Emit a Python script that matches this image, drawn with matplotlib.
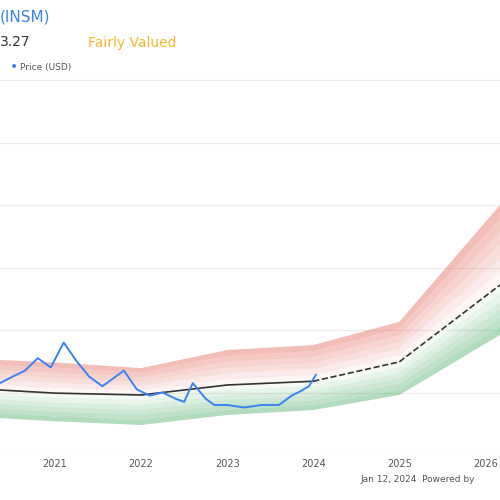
import numpy as np
import matplotlib.pyplot as plt

# fair value path (years, value)
fv_x = [2020.36, 2021.0, 2022.0, 2023.0, 2024.0, 2025.0, 2026.17]
fv_y = [10.4, 9.9, 9.6, 11.2, 11.8, 14.9, 27.2]
upper_y = [15.2, 14.8, 13.9, 16.8, 17.6, 21.3, 40.0]
lower_y = [5.9, 5.4, 4.8, 6.4, 7.2, 9.6, 19.2]

price_x = [2020.36, 2020.5, 2020.65, 2020.8, 2020.95, 2021.1, 2021.25, 2021.4, 2021.55,
           2021.7, 2021.8, 2021.95, 2022.1, 2022.25, 2022.4, 2022.5, 2022.6, 2022.75,
           2022.85, 2023.0, 2023.2, 2023.4, 2023.6, 2023.75, 2023.85, 2023.95, 2024.03]
price_y = [11.5, 12.5, 13.5, 15.5, 14.0, 18.0, 15.0, 12.5, 11.0, 12.5, 13.5, 10.5,
           9.5, 10.0, 9.0, 8.5, 11.5, 9.0, 8.0, 8.0, 7.6, 8.0, 8.0, 9.5, 10.2, 11.0, 12.8]

years = [2021, 2022, 2023, 2024, 2025, 2026]

fig = plt.figure(figsize=(5, 5), dpi=100)
ax = fig.add_axes([0, 0.09, 1, 0.82])
ax.set_xlim(2020.36, 2026.17)
ax.set_ylim(0, 65.6)

for yv in [0, 10, 20, 30, 40, 50, 60]:
    ax.axhline(yv, color='#ececec', lw=0.8, zorder=0)

fv = np.array(fv_y)
up = np.array(upper_y)
lo = np.array(lower_y)
n = 6
for i in range(n):
    f0 = i / n
    f1 = (i + 1) / n
    ax.fill_between(fv_x, fv + (up - fv) * f0, fv + (up - fv) * f1,
                    color='#e05a4a', alpha=0.05 + 0.07 * i, lw=0)
    ax.fill_between(fv_x, fv - (fv - lo) * f0, fv - (fv - lo) * f1,
                    color='#3aa65a', alpha=0.05 + 0.07 * i, lw=0)

ax.plot(fv_x[:5], fv_y[:5], color='#333333', lw=1.2)
ax.plot(fv_x[4:], fv_y[4:], color='#333333', lw=1.2, ls='--')
ax.plot(price_x, price_y, color='#3b82f6', lw=1.4)

ax.set_xticks(years)
ax.set_xticklabels([str(y) for y in years], fontsize=7, color='#555555')
ax.tick_params(axis='x', length=0, pad=3)
ax.set_yticks([])
for s in ax.spines.values():
    s.set_visible(False)

fig.text(0.0, 0.965, '(INSM)', color='#3b82f6', fontsize=11, va='center')
fig.text(0.0, 0.915, '3.27', color='#333333', fontsize=10, va='center')
fig.text(0.175, 0.915, 'Fairly Valued', color='#f5b82e', fontsize=10, va='center')
fig.text(0.02, 0.865, '•', color='#3b82f6', fontsize=10, va='center')
fig.text(0.04, 0.865, 'Price (USD)', color='#555555', fontsize=6.5, va='center')
fig.text(0.72, 0.04, 'Jan 12, 2024  Powered by', color='#555555', fontsize=6.5, va='center')

fig.savefig('out.png', dpi=100)
